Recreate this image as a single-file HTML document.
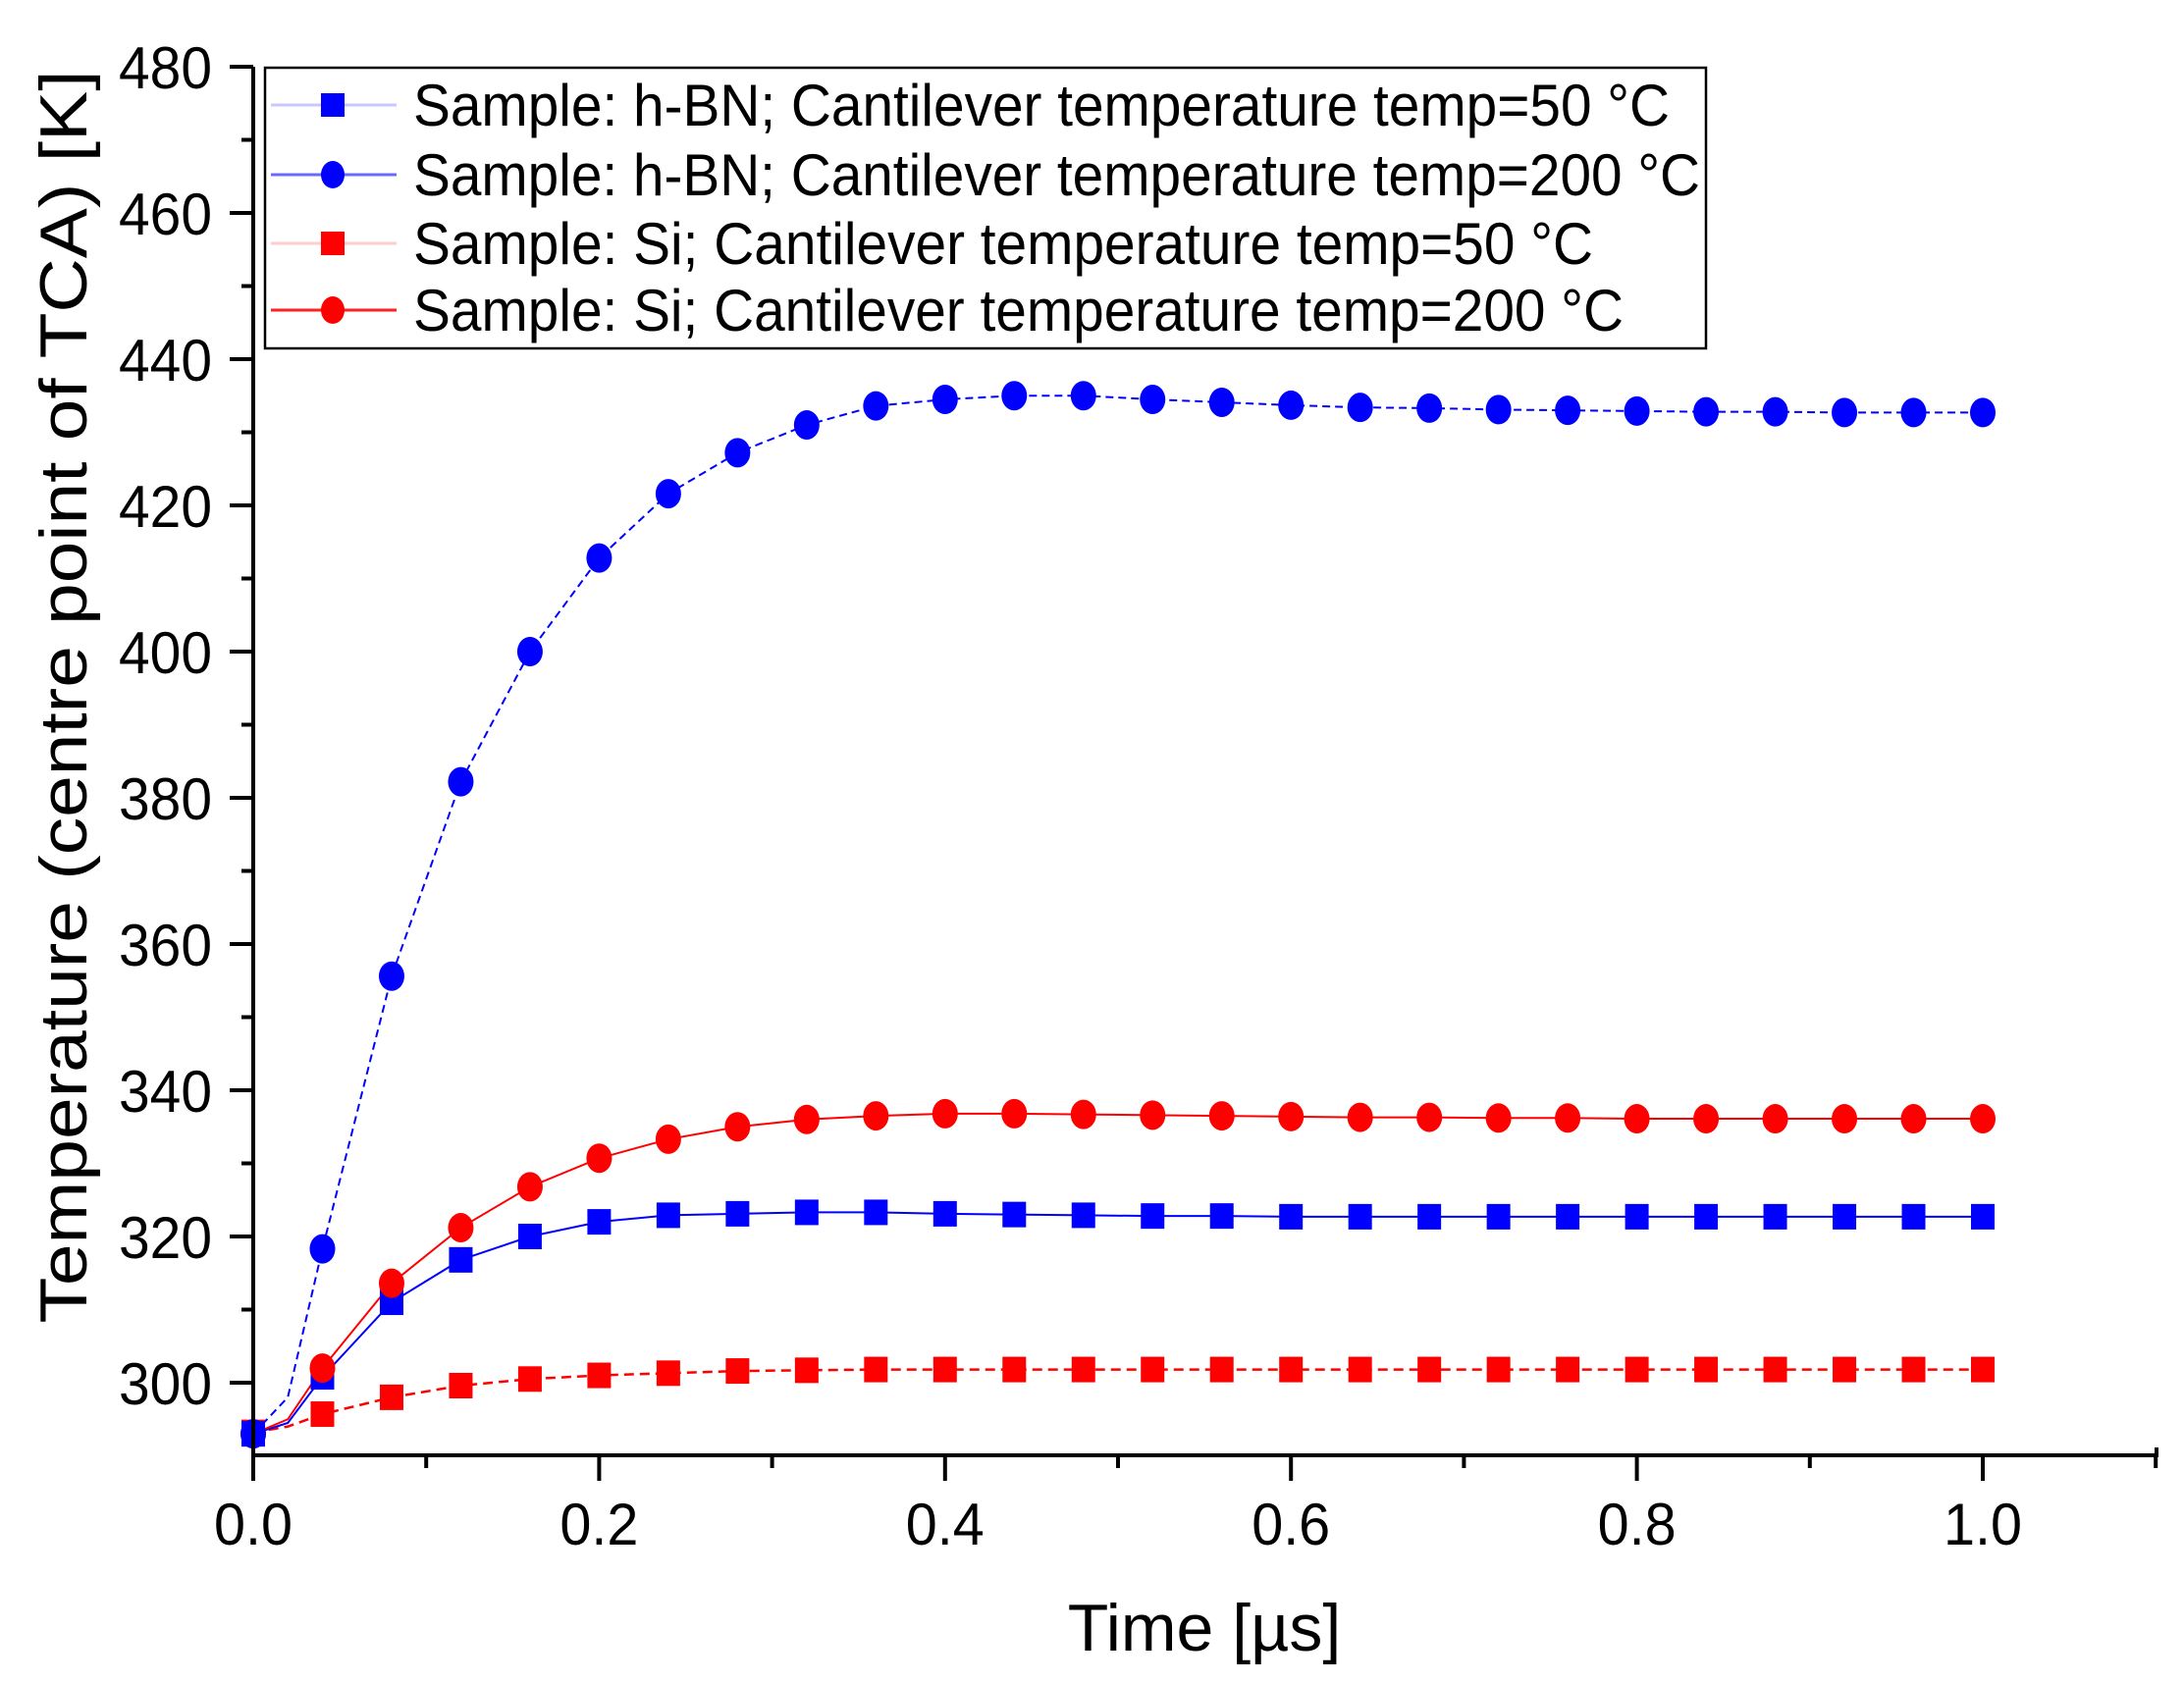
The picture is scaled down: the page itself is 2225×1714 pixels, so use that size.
<!DOCTYPE html>
<html><head><meta charset="utf-8"><style>
html,body{margin:0;padding:0;background:#fff;}
svg{display:block;font-family:"Liberation Sans",Arial,sans-serif;}
</style></head><body>
<svg id="s" width="2225" height="1714" viewBox="0 0 2225 1714" xmlns="http://www.w3.org/2000/svg">
<rect width="2225" height="1714" fill="#fff"/>
<g id="data"></g>
<g id="axes" stroke="#000" stroke-width="4" fill="none"></g>
<g id="lab" font-size="60" fill="#000"></g>
<rect x="270" y="69" width="1468" height="286" fill="#fff" stroke="#000" stroke-width="2.5"/>
<g id="leg"></g>
<text x="1227" y="1682" font-size="68" text-anchor="middle">Time [µs]</text>
<text transform="translate(88,710) rotate(-90)" font-size="68" text-anchor="middle" textLength="1277" lengthAdjust="spacingAndGlyphs">Temperature (centre point of TCA) [K]</text>
</svg>
<script>
const NS="http://www.w3.org/2000/svg";
const X=t=>258+t*1762, Y=T=>68+(480-T)*7.45;
function el(p,n,a,txt){const e=document.createElementNS(NS,n);for(const k in a)e.setAttribute(k,a[k]);if(txt!==undefined)e.textContent=txt;p.appendChild(e);return e;}
const ax=document.getElementById('axes'),lab=document.getElementById('lab');
el(ax,'path',{d:`M258 68 V1483 H2197 V1475`});
for(let T=300;T<=480;T+=10){const maj=T%20==0;el(ax,'line',{x1:258,x2:maj?234:246,y1:Y(T),y2:Y(T)});
 if(maj)el(lab,'text',{x:216,y:Y(T)+22,'text-anchor':'end',textLength:95,lengthAdjust:'spacingAndGlyphs'},T);}
for(let i=0;i<=11;i++){const t=i/10,maj=i%2==0;el(ax,'line',{x1:X(t),x2:X(t),y1:1483,y2:maj?1509:1496});
 if(maj&&i<=10)el(lab,'text',{x:X(t),y:1574,'text-anchor':'middle',textLength:80,lengthAdjust:'spacingAndGlyphs'},t.toFixed(1));}
const times=[];for(let i=0;i<=25;i++)times.push(+(i*0.04).toFixed(2));
const s={
hb200:[293,318.3,355.6,382.2,400,412.8,421.6,427.2,431,433.6,434.5,435,435,434.5,434.1,433.7,433.4,433.3,433.1,433,432.9,432.8,432.8,432.7,432.7,432.7],
hb50:[293,300.8,311,316.8,320,322,322.9,323.1,323.3,323.3,323.1,323,322.9,322.8,322.8,322.7,322.7,322.7,322.7,322.7,322.7,322.7,322.7,322.7,322.7,322.7],
si200:[293,302,313.6,321.2,326.8,330.7,333.3,335,336,336.5,336.8,336.8,336.7,336.6,336.5,336.4,336.3,336.3,336.2,336.2,336.1,336.1,336.1,336.1,336.1,336.1],
si50:[293.2,295.7,298,299.6,300.5,301,301.3,301.6,301.7,301.8,301.8,301.8,301.8,301.8,301.8,301.8,301.8,301.8,301.8,301.8,301.8,301.8,301.8,301.8,301.8,301.8]};
const d=document.getElementById('data');
const mids={hb200:298,hb50:294.5,si200:295,si50:294};
const cfg=[['si50','#f00','sq','10 6',2.5],['hb50','#00f','sq','',2],['si200','#f00','ci','',2],['hb200','#00f','ci','8 5',2]];
for(const [k,c,m,da,w] of cfg){const v=s[k];let pts=[[X(0),Y(v[0])],[X(0.02),Y(mids[k])]];
 for(let i=1;i<v.length;i++)pts.push([X(times[i]),Y(v[i])]);
 el(d,'polyline',{points:pts.map(p=>p.join(',')).join(' '),fill:'none',stroke:c,'stroke-width':w,'stroke-dasharray':da});}
for(const [k,c,m] of cfg){const v=s[k];v.forEach((T,i)=>{const x=X(times[i]),y=Y(T);
 if(m=='sq')el(d,'rect',{x:x-12,y:y-13,width:24,height:26,fill:c});else el(d,'ellipse',{cx:x,cy:y,rx:13,ry:15,fill:c});});}
const lg=document.getElementById('leg');
const L=[['#00f','sq','#c8c8ff','Sample: h-BN; Cantilever temperature temp=50 °C',1280],['#00f','ci','#6a6aff','Sample: h-BN; Cantilever temperature temp=200 °C',1311],['#f00','sq','#ffcccc','Sample: Si; Cantilever temperature temp=50 °C',1202],['#f00','ci','#ff2020','Sample: Si; Cantilever temperature temp=200 °C',1233]];
const ry=[107,178,248,316];
L.forEach(([c,m,lc,t,tl],i)=>{const y=ry[i];el(lg,'line',{x1:276,x2:404,y1:y,y2:y,stroke:lc,'stroke-width':3});
 if(m=='sq')el(lg,'rect',{x:327,y:y-12,width:24,height:24,fill:c});else el(lg,'ellipse',{cx:339,cy:y,rx:12,ry:14,fill:c});
 el(lg,'text',{x:421,y:y+21,'font-size':60,textLength:tl,lengthAdjust:'spacingAndGlyphs'},t);});
</script>
</body></html>
